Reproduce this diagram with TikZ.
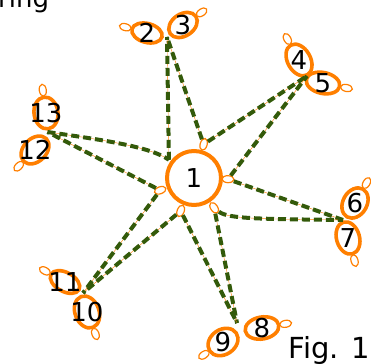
\documentclass[tikz,border=0pt]{standalone}
\usepackage{fontspec}
\setmainfont{DejaVu Sans}
\usetikzlibrary{shapes.geometric,calc}
\definecolor{myorange}{RGB}{255,127,0}
\definecolor{dkgreen}{RGB}{51,90,10}
\tikzset{
  sat/.style={ellipse, draw=myorange, line width=3.6pt, fill=white, inner sep=0pt},
  port/.style={ellipse, draw=myorange, line width=1.2pt, fill=white, minimum width=12pt, minimum height=7pt, inner sep=0pt},
  num/.style={font=\fontsize{26}{26}\selectfont, inner sep=0pt},
  hub/.style={circle, draw=myorange, line width=4pt, fill=white, minimum size=54pt, inner sep=0pt},
  wire/.style={draw=dkgreen, line width=4pt, dash pattern=on 8pt off 4pt, preaction={draw=myorange, solid}},
  bigtext/.style={inner sep=0pt}
}
\newcommand\satnode[7]{%
  \node[sat, minimum width=#4pt, minimum height=#5pt, rotate=#6] (s#1) at (#2,#3) {};
  \node[port, rotate=#6] (q#1) at ($(s#1.center)+(#6:{#4/2+7})$) {};
  \node[num] (t#1) at (s#1.center) {#7};
}
\begin{document}
\begin{tikzpicture}[x=1pt,y=1pt]
\useasboundingbox (0,0) rectangle (371,363);
% hub
\node[hub] (n1) at (194,185) {};
\node[num] (t1) at (n1.center) {1};
\node[port, rotate=74] (pt) at ($(n1.center)+(74:35)$) {};
\node[port, rotate=-2] (pr) at ($(n1.center)+(-2:34)$) {};
\node[port, rotate=-56] (pbr) at ($(n1.center)+(-56:36)$) {};
\node[port, rotate=-112] (pb) at ($(n1.center)+(-112:35.5)$) {};
\node[port, rotate=-160] (pl) at ($(n1.center)+(-160:36)$) {};
\coordinate (b1) at ($(n1.center)+(144:31)$);
% satellites
\satnode{2}{147}{330}{31}{19}{165}{2}
\satnode{3}{183}{338}{31}{22}{34}{3}
\satnode{4}{299}{303}{34}{23}{119}{4}
\satnode{5}{323}{280}{34}{21}{-12}{5}
\satnode{6}{355}{160}{32}{24}{60}{6}
\satnode{7}{348}{125}{33}{23}{-74}{7}
\satnode{8}{262}{35}{34}{22}{10}{8}
\satnode{9}{223}{21}{32}{25}{214}{9}
\satnode{10}{87}{51}{33}{24}{-69}{10}
\satnode{11}{65}{81}{32}{19}{151}{11}
\satnode{12}{35}{213}{32}{23}{225}{12}
\satnode{13}{46}{250}{32}{24}{98}{13}
% junctions
\coordinate (j23) at (167,326);
\coordinate (j45) at (307,287);
\coordinate (j67) at (343,143);
\coordinate (j89) at (237,40);
\coordinate (j1011) at (83,70);
\coordinate (j1213) at (47.5,231);
% edges
\draw[wire] (pt) -- (j23);
\draw[wire] (b1) -- (j23);
\draw[wire] (pt) -- (j45);
\draw[wire] (pr) -- (j45);
\draw[wire] (pr) -- (j67);
\draw[wire] (pbr) .. controls (228,144) and (262,144) .. (j67);
\draw[wire] (pbr) -- (j89);
\draw[wire] (pb) -- (j89);
\draw[wire] (pb) -- (j1011);
\draw[wire] (pl) -- (j1011);
\draw[wire] (pl) -- (j1213);
\draw[wire] (j1213) .. controls (110,222) and (150,216) .. (b1);
% texts
\node[bigtext, anchor=base west, font=\fontsize{26}{26}\selectfont] (title) at (-2,355.5) {ring};
\node[bigtext, anchor=base east, font=\fontsize{29}{29}\selectfont] (fig) at (370,5) {Fig. 1};
\end{tikzpicture}
\end{document}
